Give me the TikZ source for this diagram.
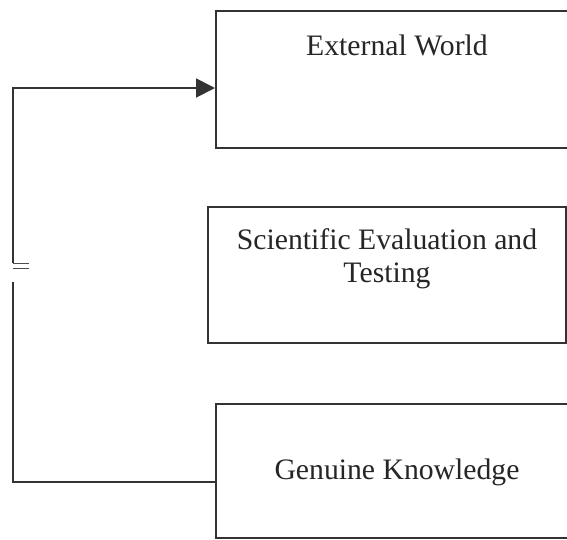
\documentclass[tikz,border=0pt]{standalone}
\usepackage{fontspec}
\setmainfont{Liberation Serif}
\usetikzlibrary{arrows.meta,calc}
\tikzset{
  boxshape/.style={draw=black!80, line width=1.9pt, rectangle, inner sep=0pt, anchor=north west},
  lbl/.style={text=black!85, font=\fontsize{29.7}{33}\selectfont, align=center, inner sep=0pt},
  conn/.style={draw=black!80, line width=1.9pt},
  arr/.style={conn, -{Triangle[length=19pt,width=19pt]}}
}
\begin{document}
\begin{tikzpicture}[x=1pt,y=-1pt]
\path[use as bounding box, clip] (0,0) rectangle (567,539);
\fill[white] (0,0) rectangle (567,539);
% boxes
\node[boxshape, minimum width=380pt, minimum height=137pt] (ext) at (215,10) {};
\node[boxshape, minimum width=358pt, minimum height=136pt] (sci) at (207,206) {};
\node[boxshape, minimum width=380pt, minimum height=134pt] (gk) at (215,403) {};
% labels
\node[lbl] (extl) at (397,45) {External World};
\node[lbl] (scil) at (387,259) {Scientific Evaluation and\\Testing};
\node[lbl] (gkl) at (397,472) {Genuine Knowledge};
% connectors
\coordinate (lo) at (13,282);
\coordinate (hi) at (13,263);
\draw[conn] ($(gk.north west)+(0,79)$) -| (lo);
\draw[arr] (hi) |- ($(ext.north west)+(0,78)$);
\draw[draw=black!70, line width=0.9pt] (hi) -- ++(16,0);
\draw[draw=black!70, line width=0.9pt] ($(hi)+(0,5)$) -- ++(16,0);
\end{tikzpicture}
\end{document}
